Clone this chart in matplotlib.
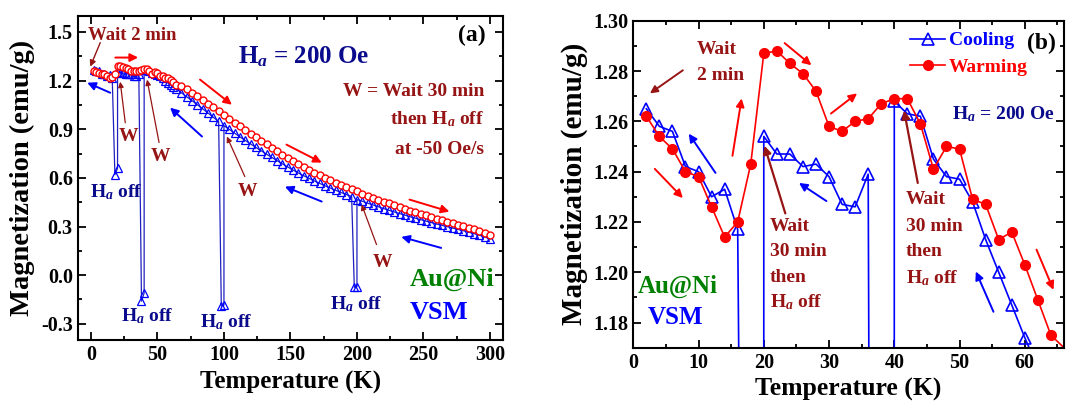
import numpy as np
import matplotlib
matplotlib.use('Agg')
import matplotlib.pyplot as plt
from matplotlib.ticker import MultipleLocator

plt.rcParams['font.family'] = ['Liberation Serif', 'DejaVu Serif']
plt.rcParams['font.weight'] = 'bold'
plt.rcParams['mathtext.fontset'] = 'custom'
plt.rcParams['mathtext.rm'] = 'Liberation Serif:bold'
plt.rcParams['mathtext.it'] = 'Liberation Serif:italic:bold'
plt.rcParams['mathtext.bf'] = 'Liberation Serif:bold'

# temperature grids (K)
T_lo = np.arange(2, 66, 2)
T_hi = np.arange(68, 304, 4)

# warming (red circles)
warm_lo = [1.262, 1.254, 1.249, 1.240, 1.238, 1.226, 1.214, 1.220, 1.243, 1.287,
           1.288, 1.283, 1.279, 1.272, 1.258, 1.256, 1.260, 1.261, 1.267, 1.269,
           1.269, 1.259, 1.241, 1.250, 1.249, 1.229, 1.227, 1.213, 1.216, 1.203,
           1.189, 1.175]
warm_hi = [1.165, 1.145, 1.124, 1.102, 1.080, 1.057, 1.034, 1.010, 0.986,
           0.963, 0.940, 0.917, 0.895, 0.873, 0.851, 0.829, 0.807, 0.786, 0.765,
           0.744, 0.724, 0.704, 0.685, 0.667, 0.650, 0.633, 0.617, 0.601, 0.586,
           0.571, 0.557, 0.543, 0.529, 0.516, 0.503, 0.490, 0.478, 0.466, 0.454,
           0.442, 0.431, 0.420, 0.409, 0.398, 0.388, 0.378, 0.368, 0.358, 0.348,
           0.339, 0.330, 0.320, 0.311, 0.302, 0.292, 0.283, 0.273, 0.261, 0.246]

# cooling (blue triangles), nan where field was off
cool_lo = [1.265, 1.258, 1.256, 1.242, 1.240, 1.230, 1.233, 1.217, np.nan, 1.254,
           1.247, 1.247, 1.242, 1.243, 1.238, 1.227, 1.226, 1.239, np.nan, 1.268,
           1.263, 1.262, 1.245, 1.238, 1.237, 1.228, 1.213, 1.200, 1.187, 1.174,
           1.162, 1.150]
cool_hi = [1.125, 1.100, 1.076, 1.051, 1.026, 1.000, 0.974, 0.948, 0.922,
           0.899, 0.876, 0.853, 0.831, 0.809, 0.788, 0.767, 0.746, 0.726, 0.706,
           0.686, 0.667, 0.648, 0.630, 0.613, 0.597, 0.581, 0.566, 0.551, 0.537,
           0.523, 0.510, 0.497, 0.485, 0.466, 0.456, 0.444, 0.433, 0.422, 0.411,
           0.400, 0.390, 0.380, 0.370, 0.360, 0.351, 0.342, 0.333, 0.324, 0.315,
           0.307, 0.299, 0.290, 0.282, 0.274, 0.265, 0.256, 0.247, 0.236, 0.222]

# H_a off points after each 30 min wait
wait_T = [200, 100, 40, 20]
off_T = [[200, 198], [100, 98], [40, 38], [20, 18]]
off_M = [[-0.07, -0.075], [-0.185, -0.19], [-0.11, -0.16], [0.66, 0.62]]

# cooling sequence in measuring order (300 K -> 2 K)
cool_T = []
cool_M = []
for t, m in zip(np.concatenate([T_lo, T_hi])[::-1], np.concatenate([cool_lo, cool_hi])[::-1]):
    if np.isnan(m):
        continue
    cool_T.append(t)
    cool_M.append(m)
    if t in wait_T:
        i = wait_T.index(t)
        cool_T += off_T[i]
        cool_M += off_M[i]

warm_T = np.concatenate([T_lo, T_hi])
warm_M = np.concatenate([warm_lo, warm_hi])

RED = '#FF0000'
BLUE = '#0000FF'
DRED = '#961414'
NAVY = '#0A0A8C'
GREEN = '#008000'

fig = plt.figure(figsize=(10.71, 4.03), dpi=100)
axa = fig.add_axes([0.0725, 0.1563, 0.3974, 0.8047])
axb = fig.add_axes([0.5913, 0.1372, 0.4021, 0.8114])


def style(ax):
    for s in ax.spines.values():
        s.set_linewidth(1.5)
    ax.tick_params(which='both', direction='in', top=True, right=True, width=1.3, labelsize=14.5)
    ax.tick_params(which='major', length=6)
    ax.tick_params(which='minor', length=3)
    for lab in ax.get_xticklabels() + ax.get_yticklabels():
        lab.set_fontweight('bold')


def arrow(ax, tail, head, color, lw=1.4, ms=12):
    ax.annotate('', xy=head, xytext=tail,
                arrowprops=dict(arrowstyle='-|>', color=color, lw=lw, mutation_scale=ms,
                                shrinkA=0, shrinkB=0))


# ---------- (a) ----------
axa.plot(cool_T, cool_M, '-', color='#2020C0', lw=0.9, marker='^', ms=5.5,
         mfc='none', mec=BLUE, mew=0.9)
axa.plot(warm_T, warm_M, '-', color=RED, lw=0.9, marker='o', ms=5,
         mfc='white', mec=RED, mew=1.0)
axa.set_xlim(-10, 310)
axa.set_ylim(-0.4, 1.6)
axa.xaxis.set_major_locator(MultipleLocator(50))
axa.xaxis.set_minor_locator(MultipleLocator(25))
axa.yaxis.set_major_locator(MultipleLocator(0.3))
axa.yaxis.set_minor_locator(MultipleLocator(0.15))
axa.yaxis.set_major_formatter(plt.FuncFormatter(lambda v, p: f'{v:.1f}'))
style(axa)
axa.set_xlabel('Temperature (K)', fontsize=18, fontweight='bold')
axa.set_ylabel('Magnetization (emu/g)', fontsize=20.5, fontweight='bold')

axa.text(-2.5, 1.48, 'Wait 2 min', color=DRED, fontsize=13.5, ha='left', va='center')
arrow(axa, (7, 1.434), (-0.5, 1.286), DRED, lw=1.0, ms=9)
axa.text(160, 1.348, r'H$_a$ = 200 Oe', color=NAVY, fontsize=18, ha='center', va='center')
axa.text(286, 1.477, '(a)', color='black', fontsize=17, ha='center', va='center')
axa.text(295.8, 1.131, 'W = Wait 30 min', color=DRED, fontsize=14, ha='right', va='center')
axa.text(295.8, 0.965, r'then H$_a$ off', color=DRED, fontsize=14, ha='right', va='center')
axa.text(295.8, 0.776, 'at -50 Oe/s', color=DRED, fontsize=14, ha='right', va='center')

for tail, head in [((18.3, 1.342), (35.5, 1.342)), ((82, 1.206), (106, 1.051)),
                   ((147, 0.805), (173.5, 0.694)), ((239.5, 0.466), (269.5, 0.392))]:
    arrow(axa, tail, head, RED)
for tail, head in [((14.5, 1.125), (-2.8, 1.187)), ((83.5, 0.855), (59.5, 1.033)),
                   ((173.5, 0.454), (145.8, 0.546)), ((263.3, 0.168), (233.3, 0.236))]:
    arrow(axa, tail, head, BLUE)

for txt, tail, head in [((28, 0.855), (25.8, 0.94), (22, 1.193)),
                        ((52, 0.732), (51.2, 0.818), (42.2, 1.206)),
                        ((118, 0.516), (115.7, 0.608), (102.2, 0.855)),
                        ((219, 0.078), (214.7, 0.189), (203.5, 0.436))]:
    axa.text(txt[0], txt[1], 'W', color=DRED, fontsize=14, ha='center', va='center')
    arrow(axa, tail, head, DRED, lw=0.9, ms=8)

for x, y in [(19, 0.509), (42.2, -0.255), (101.5, -0.292), (199.7, -0.181)]:
    axa.text(x, y, r'H$_a$ off', color=NAVY, fontsize=14, ha='center', va='center')

axa.text(239.5, -0.027, 'Au@Ni', color=GREEN, fontsize=19, ha='left', va='center')
axa.text(239.5, -0.231, 'VSM', color=BLUE, fontsize=19, ha='left', va='center')

# ---------- (b) ----------
axb.plot(cool_T, cool_M, '-', color=BLUE, lw=1.2, marker='^', ms=8,
         mfc='none', mec=BLUE, mew=1.2, label='Cooling')
axb.plot(warm_T, warm_M, '-', color=RED, lw=1.2, marker='o', ms=7,
         mfc=RED, mec=RED, label='Warming')
axb.set_xlim(0, 66)
axb.set_ylim(1.17, 1.30)
axb.xaxis.set_major_locator(MultipleLocator(10))
axb.xaxis.set_minor_locator(MultipleLocator(5))
axb.yaxis.set_major_locator(MultipleLocator(0.02))
axb.yaxis.set_minor_locator(MultipleLocator(0.01))
axb.yaxis.set_major_formatter(plt.FuncFormatter(lambda v, p: f'{v:.2f}'))
style(axb)
axb.set_xlabel('Temperature (K)', fontsize=18.5, fontweight='bold')
axb.set_ylabel('Magnetization (emu/g)', fontsize=21, fontweight='bold')

leg = axb.legend(loc='upper left', bbox_to_anchor=(0.625, 0.99), frameon=False,
                 fontsize=14, handlelength=1.8, handletextpad=0.2, labelspacing=0.45,
                 borderaxespad=0)
for txt, c in zip(leg.get_texts(), [BLUE, RED]):
    txt.set_color(c)

axb.text(62.6, 1.291, '(b)', color='black', fontsize=17, ha='center', va='center')
axb.text(56.8, 1.263, r'H$_a$ = 200 Oe', color=NAVY, fontsize=14, ha='center', va='center')
axb.text(9.7, 1.2887, 'Wait', color=DRED, fontsize=14, ha='left', va='center')
axb.text(9.7, 1.2781, '2 min', color=DRED, fontsize=14, ha='left', va='center')
arrow(axb, (7.6, 1.2803), (2.55, 1.2711), DRED, lw=1.4, ms=11)

for x0, ys in [(20.9, [1.2183, 1.2083, 1.1979, 1.1883]), (41.8, [1.229, 1.2183, 1.2083, 1.1976])]:
    for s, y in zip(['Wait', '30 min', 'then', r'H$_a$ off'], ys):
        axb.text(x0, y, s, color=DRED, fontsize=14, ha='left', va='center')
arrow(axb, (23.3, 1.2234), (20.1, 1.2503), DRED, lw=1.6, ms=12)
arrow(axb, (43.6, 1.2355), (41.5, 1.2643), DRED, lw=1.6, ms=12)

for tail, head in [((3.3, 1.2411), (7.6, 1.2295)), ((15.2, 1.2463), (16.6, 1.2691)),
                   ((23.2, 1.2911), (27.3, 1.2823)), ((30.3, 1.2631), (34.3, 1.2711)),
                   ((61.8, 1.209), (64.4, 1.193))]:
    arrow(axb, tail, head, RED)
for tail, head in [((12.6, 1.2395), (8.5, 1.2551)), ((29.6, 1.2283), (25.4, 1.2355)),
                   ((55.2, 1.1843), (52.5, 1.2003))]:
    arrow(axb, tail, head, BLUE)

axb.text(0.7, 1.1942, 'Au@Ni', color=GREEN, fontsize=18, ha='left', va='center')
axb.text(2.2, 1.1822, 'VSM', color=BLUE, fontsize=18, ha='left', va='center')

fig.savefig('out.png', dpi=100)
